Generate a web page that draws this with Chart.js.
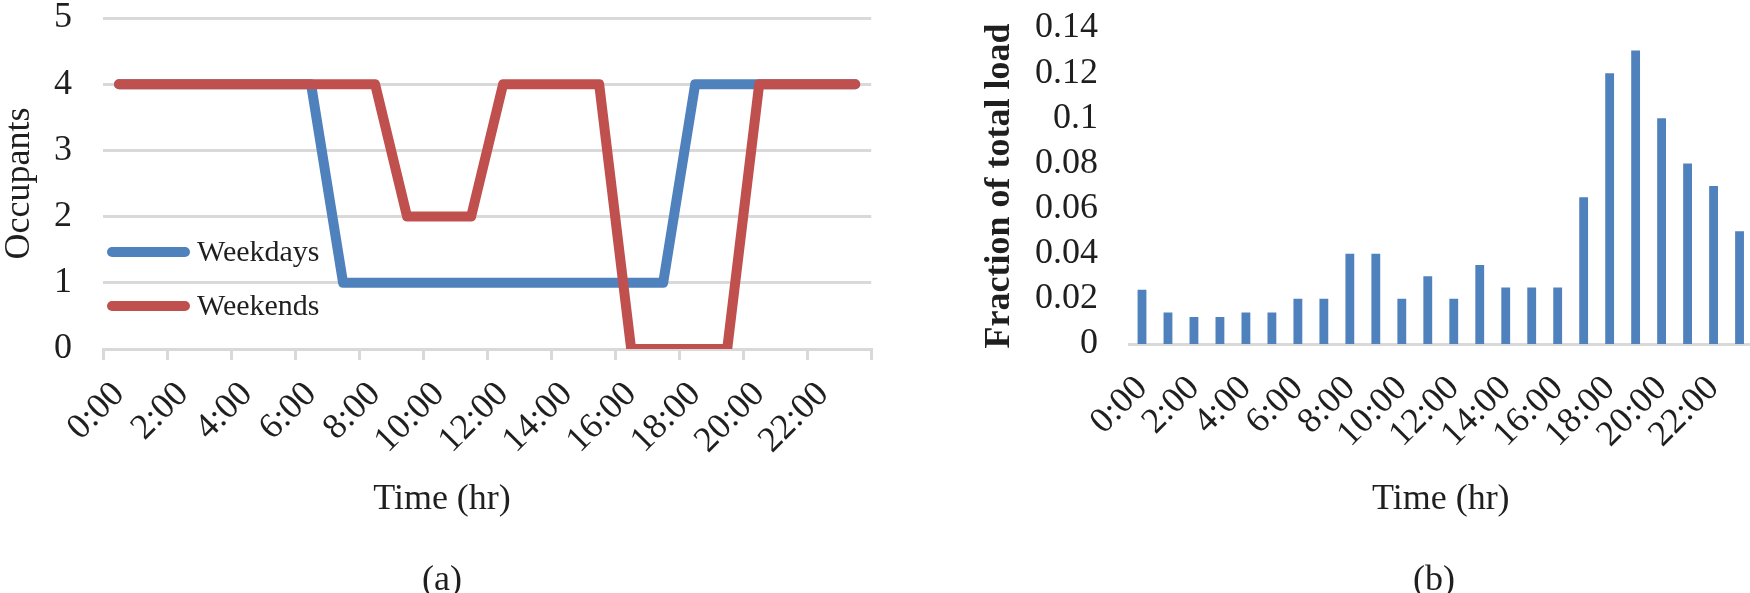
<!DOCTYPE html>
<html>
<head>
<meta charset="utf-8">
<script src="https://cdn.jsdelivr.net/npm/chart.js@4"></script>
<style>
body { margin: 0; background: #fff; }
#wrap { position: relative; width: 1750px; height: 593px; overflow: hidden; }
canvas { position: absolute; top: 0; }
.cap { position: absolute; top: 560px; width: 100px; text-align: center; font: 36px/36px 'Liberation Serif', 'Times New Roman', serif; color: #1f1f1f; }
</style>
</head>
<body>
<div id="wrap">
  <canvas id="occChart" width="897" height="593" style="left:0"></canvas>
  <canvas id="loadChart" width="805" height="593" style="left:960px"></canvas>
  <div class="cap" style="left:392px">(a)</div>
  <div class="cap" style="left:1384px">(b)</div>
</div>
<script>
hours = ['0:00', '1:00', '2:00', '3:00', '4:00', '5:00', '6:00', '7:00',
    '8:00', '9:00', '10:00', '11:00', '12:00', '13:00', '14:00', '15:00',
    '16:00', '17:00', '18:00', '19:00', '20:00', '21:00', '22:00', '23:00']

weekdays = [4, 4, 4, 4, 4, 4, 4, 1, 1, 1, 1, 1, 1, 1, 1, 1, 1, 1, 4, 4, 4, 4, 4, 4]
weekends = [4, 4, 4, 4, 4, 4, 4, 4, 4, 2, 2, 2, 4, 4, 4, 4, 0, 0, 0, 0, 4, 4, 4, 4]

loadFraction = [0.024, 0.014, 0.012, 0.012, 0.014, 0.014, 0.020, 0.020,
    0.040, 0.040, 0.020, 0.030, 0.020, 0.035, 0.025, 0.025,
    0.025, 0.065, 0.120, 0.130, 0.100, 0.080, 0.070, 0.050]

loadTicks = ['0', '0.02', '0.04', '0.06', '0.08', '0.1', '0.12', '0.14']

const serif = "'Liberation Serif', 'Times New Roman', serif"
const ink = '#1f1f1f'
const grey = '#d9d9d9'
const blue = '#4f81bd'
const red = '#c0504d'
const clear = 'rgba(0,0,0,0)'

// only every second hour gets a label
function everyOther(value, i) {
    return i % 2 === 0 ? this.getLabelForValue(value) : ''
}

// legend sits inside the plot, bottom left, like the excel one
const inlineLegend = {
    id: 'inlineLegend',
    afterDraw(chart) {
        const ctx = chart.ctx
        const area = chart.chartArea
        const sets = chart.data.datasets
        ctx.save()
        ctx.font = '30px ' + serif
        ctx.textBaseline = 'middle'
        ctx.lineCap = 'round'
        sets.forEach((ds, i) => {
            const y = area.bottom - 97 + i * 54
            ctx.strokeStyle = ds.borderColor
            ctx.lineWidth = ds.borderWidth
            ctx.beginPath()
            ctx.moveTo(area.left + 9, y)
            ctx.lineTo(area.left + 82, y)
            ctx.stroke()
            ctx.fillStyle = ink
            ctx.fillText(ds.label, area.left + 94, y + 1)
        })
        ctx.restore()
    }
}

new Chart(document.getElementById('occChart'), {
    type: 'line',
    data: {
        labels: hours,
        datasets: [
            {
                label: 'Weekdays',
                data: weekdays,
                borderColor: blue,
                backgroundColor: blue,
                borderWidth: 10,
                pointRadius: 0,
                borderCapStyle: 'round',
                borderJoinStyle: 'round',
                order: 1
            },
            {
                label: 'Weekends',
                data: weekends,
                borderColor: red,
                backgroundColor: red,
                borderWidth: 10,
                pointRadius: 0,
                borderCapStyle: 'round',
                borderJoinStyle: 'round',
                order: 0
            }
        ]
    },
    options: {
        responsive: false,
        animation: false,
        events: [],
        // uneven side padding keeps "Time (hr)" centred where the original has it
        layout: { padding: { top: 18, left: 2, right: 15, bottom: 75 } },
        scales: {
            x: {
                offset: true,
                grid: {
                    offset: true,
                    drawOnChartArea: false,
                    tickLength: 11,
                    lineWidth: 3,
                    color: (ctx) => (ctx.index === undefined || ctx.index % 2 === 0) ? grey : clear
                },
                border: { color: grey, width: 3 },
                ticks: {
                    autoSkip: false,
                    maxRotation: 45,
                    minRotation: 45,
                    padding: 16,
                    color: ink,
                    font: { family: serif, size: 36, lineHeight: 1 },
                    callback: everyOther
                },
                afterFit: (scale) => { scale.height = 133 }
            },
            y: {
                min: 0,
                max: 5,
                ticks: { stepSize: 1, padding: 0, color: ink, font: { family: serif, size: 36, lineHeight: 1 } },
                grid: { color: grey, lineWidth: 3, drawTicks: true, tickLength: 31, tickColor: clear },
                border: { display: false },
                title: {
                    display: true,
                    text: 'Occupants',
                    color: ink,
                    padding: 0,
                    font: { family: serif, size: 36, lineHeight: 1 }
                },
                afterFit: (scale) => { scale.width = 101 }
            }
        },
        plugins: {
            legend: { display: false },
            title: {
                display: true,
                position: 'bottom',
                text: 'Time (hr)',
                color: ink,
                padding: 0,
                font: { family: serif, size: 36, weight: 'normal', lineHeight: 1 }
            },
            tooltip: { enabled: false }
        }
    },
    plugins: [inlineLegend]
})

new Chart(document.getElementById('loadChart'), {
    type: 'bar',
    data: {
        labels: hours,
        datasets: [{
            label: 'Fraction of total load',
            data: loadFraction,
            backgroundColor: blue,
            categoryPercentage: 1,
            barPercentage: 0.34
        }]
    },
    options: {
        responsive: false,
        animation: false,
        events: [],
        layout: { padding: { top: 28, left: 0, right: 0, bottom: 75 } },
        scales: {
            x: {
                grid: { display: false, drawTicks: true, tickLength: 26 },
                border: { display: true, color: grey, width: 3 },
                ticks: {
                    autoSkip: false,
                    maxRotation: 45,
                    minRotation: 45,
                    padding: 0,
                    color: ink,
                    font: { family: serif, size: 36, lineHeight: 1 },
                    callback: everyOther
                },
                title: {
                    display: true,
                    text: 'Time (hr)',
                    color: ink,
                    padding: 0,
                    font: { family: serif, size: 36, lineHeight: 1 }
                },
                afterFit: (scale) => { scale.height = 174 }
            },
            y: {
                min: 0,
                max: 0.14,
                ticks: {
                    stepSize: 0.02,
                    padding: 0,
                    color: ink,
                    font: { family: serif, size: 36, lineHeight: 1 },
                    callback: (v, i) => loadTicks[i]
                },
                grid: { display: false, drawTicks: true, tickLength: 31 },
                border: { display: false },
                title: {
                    display: true,
                    text: 'Fraction of total load',
                    color: ink,
                    padding: { top: 22, bottom: 0 },
                    font: { family: serif, size: 36, weight: 'bold', lineHeight: 1 }
                },
                afterFit: (scale) => { scale.width = 169 }
            }
        },
        plugins: {
            legend: { display: false },
            tooltip: { enabled: false }
        }
    }
})
</script>
</body>
</html>
